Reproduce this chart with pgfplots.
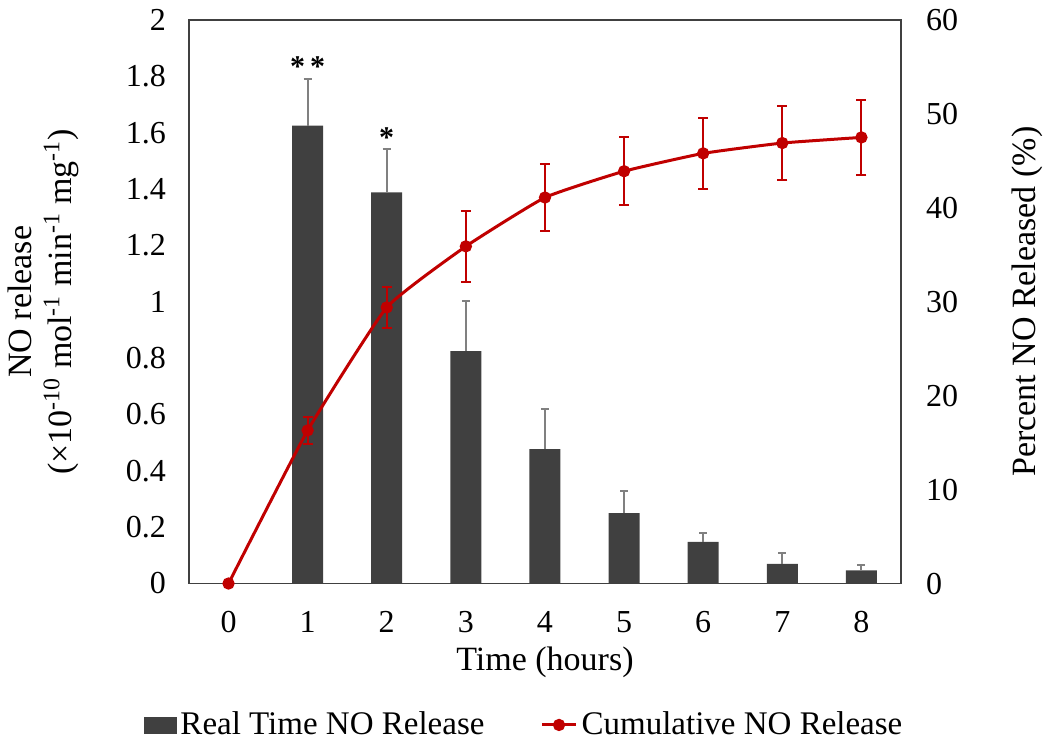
\documentclass[border=0pt]{standalone}
\usepackage{fontspec}
\setmainfont{Liberation Serif}
\usepackage{pgfplots}
\pgfplotsset{compat=1.18}

\definecolor{barcol}{HTML}{404040}
\definecolor{errgray}{HTML}{808080}
\definecolor{linered}{HTML}{C00000}
\definecolor{framecol}{HTML}{404040}

% real time release, mean and upper error
\pgfplotstableread{
x y e
1 1.625 0.165
2 1.388 0.154
3 0.825 0.178
4 0.477 0.142
5 0.250 0.077
6 0.148 0.032
7 0.070 0.038
8 0.047 0.020
}\realtime

% cumulative percent released
\pgfplotstableread{
x y e
0 0.0 0.0
1 16.3 1.4
2 29.4 2.2
3 35.9 3.8
4 41.1 3.6
5 43.9 3.6
6 45.8 3.8
7 46.9 3.9
8 47.5 4.0
}\cumul

\begin{document}
\begin{tikzpicture}
\pgfplotsset{
  base/.style={
    scale only axis,
    width=356pt, height=281.75pt,
    xmin=-0.5, xmax=8.5,
    major tick length=0pt,
    axis line style={framecol, line width=0.8pt},
    tick label style={font=\fontsize{16}{19}\selectfont},
    label style={font=\fontsize{17}{20}\selectfont},
    /pgf/number format/assume math mode=true,
  }
}
\begin{axis}[base,
    ymin=0, ymax=2,
    ytick={0,0.2,...,2},
    xtick={0,...,8},
    xtick pos=bottom, ytick pos=left,
    xticklabel shift=10.5pt,
    yticklabel shift=8pt,
    xlabel={Time (hours)},
    xlabel style={at={(axis description cs:0.5,-0.139)}, anchor=center},
    ylabel={NO release\\(×10\textsuperscript{-10} mol\textsuperscript{-1} min\textsuperscript{-1} mg\textsuperscript{-1})},
    ylabel style={align=center, at={(axis description cs:-0.204,0.5)}, anchor=center},
    /pgf/number format/.cd, fixed, precision=1,
]
\addplot[ybar, bar width=15.5pt, fill=barcol, draw=none,
    error bars/.cd, y dir=plus, y explicit,
    error bar style={errgray, line width=1pt},
    error mark options={rotate=90, mark size=2pt, errgray, line width=1pt}]
  table[x=x, y=y, y error=e] {\realtime};
\node[anchor=base, font=\bfseries\fontsize{15}{17}\selectfont] at (axis cs:1,1.80) {*\,*};
\node[anchor=base, font=\bfseries\fontsize{15}{17}\selectfont] at (axis cs:2,1.548) {*};
\coordinate (bl) at (axis description cs:-0.2654,-0.2866);
\coordinate (tr) at (axis description cs:1.2093,1.0355);
\end{axis}

\begin{axis}[base,
    ymin=0, ymax=60,
    ytick={0,10,...,60},
    axis y line*=right, axis x line=none,
    yticklabel shift=9pt,
    ylabel={Percent NO Released (\%)},
    ylabel style={at={(axis description cs:1.177,0.5)}, anchor=center, rotate=0},
    clip=false,
    legend columns=2,
    legend style={at={(axis description cs:0.472,-0.251)}, anchor=center,
      draw=none, fill=none, font=\fontsize{16.5}{19}\selectfont,
      /tikz/every even column/.append style={column sep=26pt}},
]
\addlegendimage{legend image code/.code={
    \fill[barcol] (0pt,-4pt) rectangle (16pt,4pt);}}
\addlegendentry{Real Time NO Release}
\addplot[linered, line width=1.5pt, smooth, tension=0.25,
    mark=*, mark size=2.3pt, mark options={fill=linered, draw=linered},
    error bars/.cd, y dir=both, y explicit,
    error bar style={linered, line width=1pt},
    error mark options={rotate=90, mark size=2.5pt, linered, line width=1pt}]
  table[x=x, y=y, y error=e] {\cumul};
\addlegendentry{Cumulative NO Release}
\end{axis}
\pgfresetboundingbox
\path[use as bounding box] (bl) rectangle (tr);
\end{tikzpicture}
\end{document}
